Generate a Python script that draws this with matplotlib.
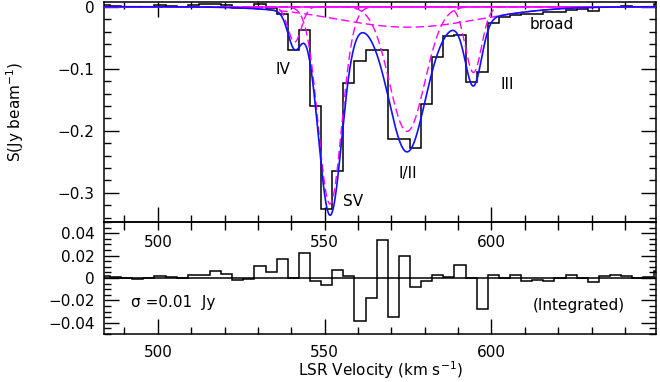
import numpy as np
import matplotlib
matplotlib.use("Agg")
import matplotlib.pyplot as plt
from matplotlib.ticker import MultipleLocator

# spectral channels (km/s): first left edge and channel width
chan_start = 482.34
chan_width = 3.33

# observed absorption spectrum, one value per channel (Jy/beam)
flux = [0.002, 0.001, 0.000, -0.001, 0.000, 0.002, 0.001, 0.000, 0.003, 0.004,
        0.005, 0.002, -0.0025, -0.0025, 0.005, -0.002, -0.011, -0.069, -0.038, -0.160,
        -0.326, -0.265, -0.123, -0.088, -0.069, -0.069, -0.214, -0.214, -0.228, -0.156,
        -0.081, -0.048, -0.045, -0.121, -0.105, -0.026, -0.017, -0.013, -0.012, -0.011,
        -0.009, -0.008, -0.005, -0.003, -0.0065, -0.001, 0.000, 0.001, 0.000, 0.000,
        0.004]

# residuals (data - fit) per channel
resid = [0.002, 0.001, 0.000, -0.001, 0.000, 0.002, 0.001, 0.000, 0.003, 0.003,
         0.006, 0.004, -0.002, -0.001, 0.011, 0.005, 0.017, 0.000, 0.0225, -0.0024,
         -0.006, 0.007, 0.002, -0.038, -0.018, 0.034, -0.035, 0.020, -0.008, -0.003,
         0.003, 0.0006, 0.012, 0.000, -0.028, 0.003, 0.000, 0.003, -0.003, -0.002,
         -0.003, 0.000, 0.003, 0.000, -0.004, 0.002, 0.003, 0.002, 0.000, 0.001,
         0.0065]

# gaussian components: IV, SV, I/II, III, broad
comp_names = ["IV", "SV", "I/II", "III", "broad"]
comp_amp = [-0.057, -0.318, -0.201, -0.106, -0.033]
comp_vel = [541.0, 551.6, 574.7, 594.6, 575.0]
comp_sigma = [2.0, 3.5, 5.3, 2.42, 21.3]

edges = chan_start + chan_width * np.arange(len(flux) + 1)
vgrid = np.linspace(484.0, 649.2, 1200)
comps = [a * np.exp(-(vgrid - v) ** 2 / (2 * s ** 2))
         for a, v, s in zip(comp_amp, comp_vel, comp_sigma)]
total = np.sum(comps, axis=0)

plt.rcParams["font.family"] = "DejaVu Sans"
plt.rcParams["font.size"] = 11

fig = plt.figure(figsize=(6.6, 3.82), dpi=100)
ax1 = fig.add_axes([0.1583, 0.4188, 0.835, 0.576])
ax2 = fig.add_axes([0.1583, 0.1257, 0.835, 0.2932])
ax2.patch.set_visible(False)

# top panel: spectrum and fit
ax1.stairs(flux, edges, baseline=None, color="black", lw=1.1, zorder=2)
ax1.axhline(0, color="#ff00ff", lw=1.1, zorder=3)
for c in comps:
    ax1.plot(vgrid, c, color="#ff00ff", lw=1.0, dashes=(6, 3), zorder=3)
ax1.plot(vgrid, total, color="#1010ff", lw=1.2, zorder=4)

ax1.set_xlim(484.0, 649.2)
ax1.set_ylim(-0.347, 0.0076)
ax1.xaxis.set_major_locator(MultipleLocator(50))
ax1.xaxis.set_minor_locator(MultipleLocator(10))
ax1.yaxis.set_major_locator(MultipleLocator(0.1))
ax1.yaxis.set_minor_locator(MultipleLocator(0.02))
ax1.yaxis.set_major_formatter(plt.FuncFormatter(lambda y, p: "0" if abs(y) < 1e-9 else f"{y:.1f}".replace("-", "\u2212")))

label_pos = {"IV": (537.5, -0.102), "SV": (558.5, -0.3145), "I/II": (574.8, -0.269),
             "III": (604.7, -0.126), "broad": (618.0, -0.028)}
for name in comp_names:
    x, y = label_pos[name]
    ax1.text(x, y, name, ha="center", va="center", fontsize=11)

# bottom panel: residuals
ax2.stairs(resid, edges, baseline=None, color="black", lw=1.1)
ax2.axhline(0, color="black", lw=1.1)
ax2.set_xlim(484.0, 649.2)
ax2.set_ylim(-0.05, 0.05)
ax2.xaxis.set_major_locator(MultipleLocator(50))
ax2.xaxis.set_minor_locator(MultipleLocator(10))
ax2.yaxis.set_major_locator(MultipleLocator(0.02))
ax2.yaxis.set_minor_locator(MultipleLocator(0.005))
ax2.yaxis.set_major_formatter(plt.FuncFormatter(lambda y, p: "0" if abs(y) < 1e-9 else f"{y:.2f}".replace("-", "\u2212")))
ax2.text(492.0, -0.0222, "\u03c3 =0.01  Jy", ha="left", va="center", fontsize=11)
ax2.text(626.3, -0.0246, "(Integrated)", ha="center", va="center", fontsize=11)

for ax in (ax1, ax2):
    for sp in ax.spines.values():
        sp.set_linewidth(1.1)
    ax.tick_params(which="both", direction="in", right=True, width=1.0, labelsize=11)
    ax.tick_params(which="major", length=10.8, pad=7)
    ax.tick_params(which="minor", length=5.0)
ax1.tick_params(axis="x", which="both", top=True, pad=9.5)
ax2.tick_params(axis="x", which="both", top=False, pad=8)

# short ticks along the top of the residual panel
sec = ax2.secondary_xaxis("top")
sec.xaxis.set_major_locator(MultipleLocator(50))
sec.xaxis.set_minor_locator(MultipleLocator(10))
sec.tick_params(which="both", direction="in", length=5.5, width=1.0, labeltop=False)
sec.spines["top"].set_visible(False)

fig.text(0.023, 1 - 112 / 382, "S(Jy beam$^{-1}$)", rotation=90, ha="center", va="center", fontsize=11)
fig.text(0.576, 1 - 376 / 382, "LSR Velocity (km s$^{-1}$)", ha="center", va="baseline", fontsize=11)

fig.savefig("out.png", dpi=100)
